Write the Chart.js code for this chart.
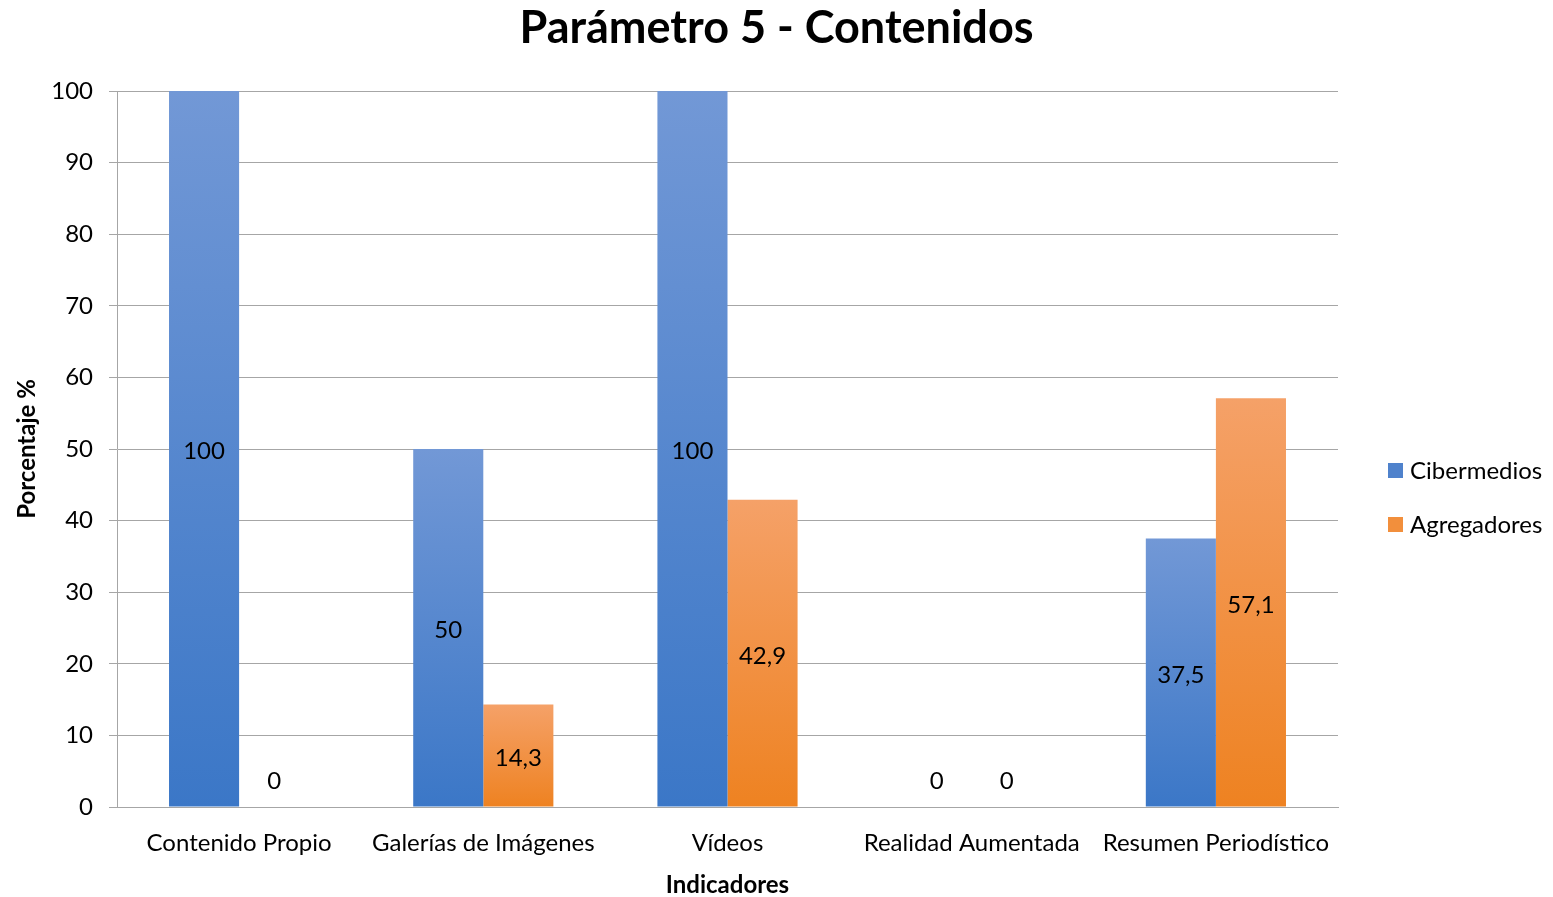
<!DOCTYPE html>
<html lang="es">
<head>
    <meta charset="UTF-8">
    <title>Parámetro 5 - Contenidos</title>
    <script src="https://cdn.jsdelivr.net/npm/chart.js"></script>
    <style>
        html, body { margin: 0; padding: 0; background: #fff; }
        #wrap { width: 1553px; height: 897px; }
    </style>
</head>
<body>
    <div id="wrap"><canvas id="grafico"></canvas></div>
    <script>
        // Datos del gráfico
        const titulo = 'Parámetro 5 - Contenidos';
        const categorias = ['Contenido Propio', 'Galerías de Imágenes', 'Vídeos', 'Realidad Aumentada', 'Resumen Periodístico'];
        const cibermedios = [100, 50, 100, 0, 37.5];
        const agregadores = [0, 14.3, 42.9, 0, 57.1];
        const ticksY = [0, 10, 20, 30, 40, 50, 60, 70, 80, 90, 100];
        const series = ['Cibermedios', 'Agregadores'];

        const FONT = 'Lato, "Open Sans", sans-serif';

        // degradado por barra (claro arriba, oscuro abajo)
        function degradado(claro, oscuro) {
            return (context) => {
                const chart = context.chart;
                const y = chart.scales.y;
                if (!chart.chartArea || !y || context.raw === undefined) return oscuro;
                const top = y.getPixelForValue(context.raw);
                const base = y.getPixelForValue(0);
                if (!isFinite(top) || !isFinite(base) || Math.abs(base - top) < 1) return oscuro;
                const g = chart.ctx.createLinearGradient(0, top, 0, base);
                g.addColorStop(0, claro);
                g.addColorStop(1, oscuro);
                return g;
            };
        }

        // etiquetas de datos en el centro de cada barra
        const etiquetas = {
            id: 'etiquetas',
            afterDatasetsDraw(chart) {
                const ctx = chart.ctx;
                ctx.save();
                ctx.font = '24px ' + FONT;
                ctx.fillStyle = '#000';
                ctx.textAlign = 'center';
                ctx.textBaseline = 'middle';
                chart.data.datasets.forEach((ds, i) => {
                    chart.getDatasetMeta(i).data.forEach((bar, j) => {
                        const v = ds.data[j];
                        const y = v === 0 ? bar.base - 26 : (bar.y + bar.base) / 2 + 3;
                        ctx.fillText(String(v).replace('.', ','), bar.x, y);
                    });
                });
                ctx.restore();
            }
        };

        // título centrado en todo el lienzo y leyenda a la derecha
        const decoracion = {
            id: 'decoracion',
            afterDraw(chart) {
                const ctx = chart.ctx;
                ctx.save();
                ctx.fillStyle = '#000';
                ctx.font = 'bold 45px ' + FONT;
                ctx.textAlign = 'center';
                ctx.textBaseline = 'middle';
                ctx.fillText(titulo, chart.width / 2, 28);

                const colores = ['#4f82cc', '#f28f3c'];
                const x = chart.chartArea.right + 50;
                const yc = (chart.chartArea.top + chart.chartArea.bottom) / 2 + 49;
                ctx.font = '24px ' + FONT;
                ctx.textAlign = 'left';
                series.forEach((s, i) => {
                    const y = yc - 27 + i * 54;
                    ctx.fillStyle = colores[i];
                    ctx.fillRect(x, y - 8, 15, 15);
                    ctx.fillStyle = '#000';
                    ctx.fillText(s, x + 22, y);
                });
                ctx.restore();
            }
        };

        const ctx = document.getElementById('grafico').getContext('2d');
        const grafico = new Chart(ctx, {
            type: 'bar',
            data: {
                labels: categorias,
                datasets: [{
                    label: series[0],
                    data: cibermedios,
                    backgroundColor: degradado('#7298d6', '#3b77c7'),
                    borderWidth: 0
                }, {
                    label: series[1],
                    data: agregadores,
                    backgroundColor: degradado('#f5a168', '#ee8221'),
                    borderWidth: 0
                }]
            },
            options: {
                responsive: true,
                maintainAspectRatio: false,
                animation: false,
                layout: { padding: { left: 0, right: 215, top: 91, bottom: 0 } },
                datasets: {
                    bar: { categoryPercentage: 0.574, barPercentage: 1 }
                },
                plugins: {
                    title: { display: false },
                    legend: { display: false },
                    tooltip: { enabled: false }
                },
                scales: {
                    x: {
                        afterFit: (s) => { s.height = 90; },
                        grid: { display: false },
                        border: { display: true, color: '#a6a6a6', width: 1 },
                        ticks: { color: '#000', font: { family: FONT, size: 24 }, padding: 14, maxRotation: 0 },
                        title: {
                            display: true,
                            text: 'Indicadores',
                            color: '#000',
                            font: { family: FONT, size: 24, weight: 'bold' },
                            padding: { top: 0, bottom: -3 }
                        }
                    },
                    y: {
                        min: 0,
                        max: 100,
                        afterFit: (s) => { s.width = 117; },
                        afterBuildTicks: (axis) => { axis.ticks = ticksY.map(v => ({ value: v })); },
                        grid: { color: '#a6a6a6', tickLength: 8, drawTicks: true },
                        border: { display: true, color: '#a6a6a6', width: 1 },
                        ticks: { color: '#000', font: { family: FONT, size: 24 }, padding: 16 },
                        title: {
                            display: true,
                            text: 'Porcentaje %',
                            color: '#000',
                            font: { family: FONT, size: 24, weight: 'bold' },
                            padding: { top: 13, bottom: 0 }
                        }
                    }
                }
            },
            plugins: [etiquetas, decoracion]
        });
    </script>
</body>
</html>
